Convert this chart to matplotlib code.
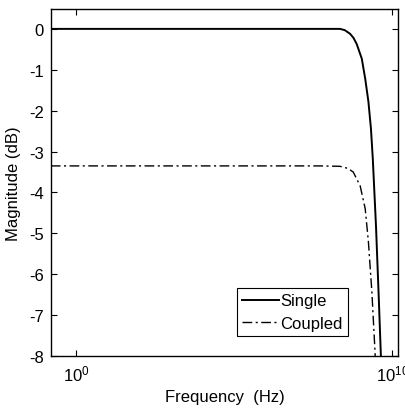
import matplotlib
matplotlib.use("Agg")
import matplotlib.pyplot as plt

plt.rcParams['font.family'] = ['Liberation Sans', 'DejaVu Sans']
plt.rcParams['mathtext.fontset'] = 'custom'
plt.rcParams['mathtext.rm'] = 'Liberation Sans'
plt.rcParams['mathtext.default'] = 'regular'

# (frequency in Hz, magnitude in dB)
single_freq = [0.16, 1.0e8, 2.24e8, 3.16e8, 4.68e8, 6.0e8, 7.59e8, 1.10e9, 1.41e9,
               1.78e9, 2.14e9, 2.45e9, 2.69e9, 3.09e9, 3.72e9, 4.37e9, 4.6e9]
single_mag = [0.0, 0.0, 0.0, -0.03, -0.12, -0.22, -0.37, -0.73, -1.22,
              -1.78, -2.44, -3.18, -3.84, -4.82, -6.43, -7.9, -8.4]

coupled_freq = [0.16, 5.25e7, 2.24e8, 3.98e8, 5.89e8, 9.77e8, 1.41e9, 1.78e9,
                2.29e9, 2.88e9, 3.05e9]
coupled_mag = [-3.35, -3.35, -3.36, -3.41, -3.50, -3.84, -4.40, -5.21,
               -6.43, -7.9, -8.4]

xtick_vals = [1, 1e10]
xtick_labels = ['$10^{0}$', '$10^{10}$']
ytick_vals = [0, -1, -2, -3, -4, -5, -6, -7, -8]

fig = plt.figure(figsize=(4.06, 4.10), dpi=100)
ax = fig.add_axes([0.1256, 0.129, 0.855, 0.846])

ax.plot(single_freq, single_mag, color='black', lw=1.4, label='Single')
ax.plot(coupled_freq, coupled_mag, color='black', lw=1.0,
        linestyle=(0, (7, 2.5, 1.5, 2.5)), label='Coupled')

ax.set_xscale('log')
ax.set_xlim(10 ** -0.79, 10 ** 10.19)
ax.set_ylim(-8, 0.48)
ax.set_xticks(xtick_vals)
ax.set_xticklabels(xtick_labels)
ax.xaxis.set_minor_locator(matplotlib.ticker.NullLocator())
ax.set_yticks(ytick_vals)
ax.set_yticklabels([str(v) for v in ytick_vals])

ax.tick_params(direction='in', top=True, right=True, length=4, width=0.8,
               labelsize=12, pad=5)
for s in ax.spines.values():
    s.set_linewidth(1.0)

ax.set_xlabel('Frequency  (Hz)', fontsize=12, labelpad=4)
ax.set_ylabel('Magnitude (dB)', fontsize=12, labelpad=6)

leg = ax.legend(loc='lower left', bbox_to_anchor=(0.536, 0.058), borderaxespad=0,
                fancybox=False, framealpha=1, edgecolor='black', fontsize=12,
                handlelength=2.2, handletextpad=0.1, labelspacing=0.45,
                borderpad=0.3)
leg.get_frame().set_linewidth(0.8)

fig.savefig('out.png', dpi=100)
